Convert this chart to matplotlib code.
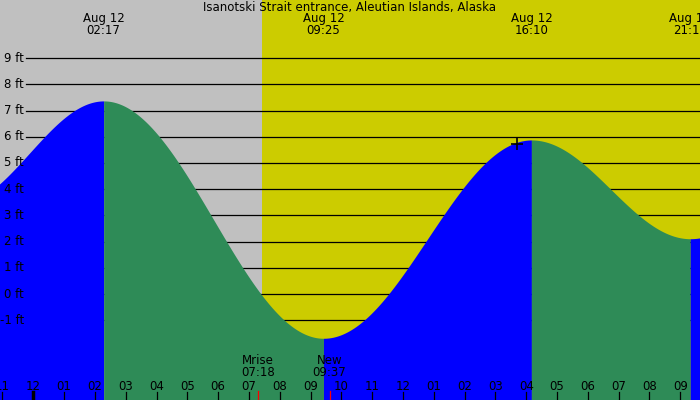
import numpy as np
import matplotlib
matplotlib.use('Agg')
import matplotlib.pyplot as plt

title = 'Isanotski Strait entrance, Aleutian Islands, Alaska'

# tide extremes (hours after midnight Aug 12, feet)
ext_times = [-2.52, 2.283, 9.417, 16.167, 21.32, 27.5]
ext_heights = [3.4, 7.37, -1.69, 5.88, 2.11, 7.2]
ext_labels = ['', '02:17', '09:25', '16:10', '21:19', '']
ext_dates = ['', 'Aug 12', 'Aug 12', 'Aug 12', 'Aug 12', '']

sunrise = 7.42
moon_times = [7.30, 9.617]
moon_names = ['Mrise', 'New']
moon_labels = ['07:18', '09:37']

ft_levels = [-1, 0, 1, 2, 3, 4, 5, 6, 7, 8, 9]
hours = list(range(-1, 22))
hour_labels = ['%02d' % (((h - 1) % 12) + 1) for h in hours]

mark_t, mark_h = 15.69, 5.73

# pixel scale of the picture
x0, px_hr = 33.3, 30.81
y0, px_ft = 294.0, 26.2
W, H = 700, 400


def xd(px):
    return (px - x0) / px_hr


def yd(py):
    return (y0 - py) / px_ft


GRAY = '#c0c0c0'
YELLOW = '#cccc00'
BLUE = '#0000ff'
GREEN = '#2e8b57'

fig = plt.figure(figsize=(7, 4), dpi=100)
ax = fig.add_axes([0, 0, 1, 1])
ax.axis('off')
ax.set_xlim(xd(0), xd(W))
ax.set_ylim(yd(H), yd(0))

# day / night
ax.axvspan(xd(0), sunrise, color=GRAY, lw=0, zorder=0)
ax.axvspan(sunrise, xd(W), color=YELLOW, lw=0, zorder=0)

# grid lines
for lv in ft_levels:
    ax.plot([xd(26), xd(W)], [lv, lv], color='black', lw=0.9, zorder=1)

# tide curve, blue rising, green falling
for i in range(len(ext_times) - 1):
    t0, t1 = ext_times[i], ext_times[i + 1]
    h0, h1 = ext_heights[i], ext_heights[i + 1]
    t = np.linspace(t0, t1, 300)
    h = h0 + (h1 - h0) * (1 - np.cos(np.pi * (t - t0) / (t1 - t0))) / 2
    col = BLUE if h1 > h0 else GREEN
    ax.fill_between(t, yd(H), h, color=col, lw=0, zorder=2)

ax.plot(mark_t, mark_h, marker='+', color='black', ms=9, mew=1.2, zorder=4)

fs = 8.5
for lv in ft_levels:
    ax.text(xd(24), lv, '%d ft' % lv, ha='right', va='center', fontsize=fs, zorder=5)

ax.text(xd(350), yd(7), title, ha='center', va='center', fontsize=fs, zorder=5)
for t, d, l in zip(ext_times, ext_dates, ext_labels):
    if l:
        ax.text(t, yd(19), d, ha='center', va='center', fontsize=fs, zorder=5)
        ax.text(t, yd(31), l, ha='center', va='center', fontsize=fs, zorder=5)

for t, n, l in zip(moon_times, moon_names, moon_labels):
    ax.text(t, yd(361), n, ha='center', va='center', fontsize=fs, zorder=5)
    ax.text(t, yd(373), l, ha='center', va='center', fontsize=fs, zorder=5)
    ax.plot([t, t], [yd(391), yd(H)], color='red', lw=0.9, zorder=5)

for h, lab in zip(hours, hour_labels):
    ax.text(h, yd(386), lab, ha='center', va='center', fontsize=fs, zorder=5)
    ax.plot([h, h], [yd(392), yd(H)], color='black',
            lw=2.5 if h == 0 else 0.9, zorder=5)

fig.savefig('out.png', dpi=100)
